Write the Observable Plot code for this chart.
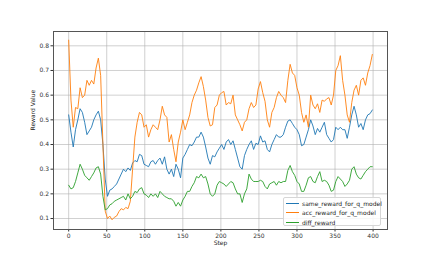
<!DOCTYPE html>
<html>
<head>
<meta charset="utf-8">
<script src="https://cdn.jsdelivr.net/npm/d3@7"></script>
<script src="https://cdn.jsdelivr.net/npm/@observablehq/plot@0.6"></script>
<style>
  html, body { margin: 0; padding: 0; background: #fff; }
  #wrap { position: relative; width: 430px; height: 258px; font-family: "DejaVu Sans", sans-serif; }
  #legend { position: absolute; left: 283px; top: 197px; width: 98px; height: 29px; box-sizing: border-box;
    border: 1px solid #d6d6d6; border-radius: 2px; background: rgba(255,255,255,0.85); font-size: 6px; color: #222; }
  .row { position: absolute; left: 0; height: 9px; line-height: 9px; white-space: nowrap; }
  .sw { position: absolute; left: 2px; top: 4px; width: 13px; height: 1.2px; }
  .lb { position: absolute; left: 18px; top: 0; }
</style>
</head>
<body>
<div id="wrap"><div id="chart"></div>
  <div id="legend"></div>
</div>
<script>
const steps = [0,3,6,9,12,15,18,21,24,27,30,33,36,39,42,45,48,51,54,57,60,63,66,69,72,75,78,81,84,87,90,93,96,99,102,105,108,111,114,117,120,123,126,129,132,135,138,141,144,147,150,153,156,159,162,165,168,171,174,177,180,183,186,189,192,195,198,201,204,207,210,213,216,219,222,225,228,231,234,237,240,243,246,249,252,255,258,261,264,267,270,273,276,279,282,285,288,291,294,297,300,303,306,309,312,315,318,321,324,327,330,333,336,339,342,345,348,351,354,357,360,363,366,369,372,375,378,381,384,387,390,393,396,399];

const sameReward = [0.52,0.45,0.39,0.46,0.5,0.545,0.53,0.49,0.44,0.455,0.47,0.5,0.52,0.535,0.5,0.4,0.26,0.19,0.215,0.22,0.23,0.24,0.26,0.28,0.3,0.29,0.305,0.295,0.325,0.335,0.33,0.36,0.355,0.32,0.315,0.31,0.33,0.335,0.32,0.335,0.345,0.32,0.35,0.3,0.28,0.3,0.27,0.32,0.3,0.265,0.345,0.36,0.38,0.4,0.395,0.41,0.43,0.43,0.45,0.43,0.39,0.345,0.32,0.355,0.35,0.37,0.385,0.4,0.38,0.41,0.42,0.4,0.415,0.38,0.345,0.31,0.3,0.355,0.38,0.4,0.415,0.38,0.405,0.4,0.435,0.41,0.415,0.38,0.37,0.4,0.42,0.44,0.43,0.43,0.44,0.47,0.495,0.5,0.485,0.47,0.46,0.44,0.395,0.4,0.43,0.46,0.5,0.475,0.44,0.465,0.45,0.47,0.49,0.44,0.425,0.41,0.42,0.47,0.46,0.47,0.46,0.46,0.425,0.47,0.52,0.555,0.52,0.47,0.485,0.46,0.5,0.52,0.525,0.54];

const accReward = [0.823,0.58,0.47,0.55,0.545,0.63,0.59,0.6,0.66,0.64,0.66,0.645,0.71,0.75,0.68,0.4,0.13,0.1,0.11,0.095,0.105,0.11,0.128,0.14,0.135,0.145,0.14,0.17,0.3,0.43,0.49,0.53,0.52,0.47,0.48,0.43,0.46,0.48,0.47,0.46,0.5,0.555,0.52,0.51,0.41,0.44,0.38,0.33,0.41,0.45,0.5,0.46,0.49,0.52,0.57,0.6,0.62,0.65,0.675,0.635,0.58,0.51,0.475,0.48,0.55,0.56,0.6,0.61,0.615,0.56,0.57,0.565,0.6,0.52,0.5,0.48,0.455,0.49,0.5,0.545,0.57,0.55,0.56,0.625,0.655,0.61,0.575,0.5,0.47,0.53,0.55,0.59,0.615,0.6,0.59,0.57,0.66,0.725,0.69,0.68,0.63,0.6,0.53,0.49,0.52,0.47,0.6,0.56,0.545,0.565,0.53,0.58,0.575,0.585,0.59,0.56,0.6,0.7,0.72,0.76,0.66,0.6,0.52,0.49,0.57,0.62,0.64,0.6,0.66,0.67,0.64,0.69,0.72,0.765];

const diffReward = [0.235,0.22,0.225,0.25,0.285,0.32,0.3,0.275,0.265,0.255,0.27,0.285,0.305,0.31,0.28,0.19,0.135,0.14,0.155,0.16,0.17,0.175,0.18,0.185,0.19,0.175,0.2,0.18,0.19,0.21,0.205,0.22,0.225,0.2,0.195,0.185,0.2,0.19,0.2,0.185,0.21,0.2,0.19,0.185,0.18,0.18,0.17,0.15,0.165,0.15,0.175,0.19,0.21,0.21,0.23,0.245,0.27,0.265,0.28,0.265,0.27,0.24,0.2,0.19,0.2,0.235,0.25,0.245,0.24,0.23,0.24,0.25,0.245,0.22,0.2,0.2,0.165,0.2,0.22,0.28,0.26,0.25,0.25,0.25,0.255,0.25,0.23,0.22,0.24,0.245,0.25,0.235,0.25,0.245,0.25,0.25,0.295,0.315,0.29,0.275,0.25,0.24,0.21,0.21,0.235,0.265,0.27,0.25,0.245,0.27,0.29,0.25,0.255,0.25,0.235,0.21,0.215,0.25,0.27,0.26,0.25,0.23,0.24,0.255,0.3,0.31,0.28,0.265,0.26,0.275,0.29,0.3,0.31,0.31];

const seriesNames = ["same_reward_for_q_model", "acc_reward_for_q_model", "diff_reward"];
const seriesColors = ["#1f77b4", "#ff7f0e", "#2ca02c"];
const xTicks = [0, 50, 100, 150, 200, 250, 300, 350, 400];
const yTicks = [0.1, 0.2, 0.3, 0.4, 0.5, 0.6, 0.7, 0.8];
const xLabel = "Step";
const yLabel = "Reward Value";

const seriesValues = [sameReward, accReward, diffReward];
const table = (vals) => steps.map((s, i) => ({step: s, value: vals[i]}));

const chart = Plot.plot({
  width: 430,
  height: 258,
  marginLeft: 53,
  marginRight: 43,
  marginTop: 31,
  marginBottom: 29,
  style: {fontFamily: "DejaVu Sans, sans-serif", fontSize: "6px", color: "#333", background: "#fff"},
  x: {domain: [-19.95, 418.95], label: null},
  y: {domain: [0.0555, 0.858], label: null},
  marks: [
    Plot.gridX(xTicks, {stroke: "#b0b0b0", strokeOpacity: 0.6, strokeWidth: 1}),
    Plot.gridY(yTicks, {stroke: "#b0b0b0", strokeOpacity: 0.6, strokeWidth: 1}),
    ...seriesValues.map((vals, k) =>
      Plot.line(table(vals), {x: "step", y: "value", stroke: seriesColors[k], strokeWidth: 1, strokeOpacity: 0.9})),
    Plot.axisX(xTicks, {tickSize: 2.5, tickPadding: 2, stroke: "#333", fill: "#333", tickFormat: d => String(d)}),
    Plot.axisY(yTicks, {tickSize: 2.5, tickPadding: 2, stroke: "#333", fill: "#333", tickFormat: d3.format(".1f")}),
    Plot.frame({stroke: "#555", strokeWidth: 1}),
    Plot.text([xLabel], {frameAnchor: "bottom", dy: 15, fill: "#222", fontSize: 6}),
    Plot.text([yLabel], {frameAnchor: "left", dx: -20, rotate: -90, fill: "#222", fontSize: 6})
  ]
});
document.getElementById("chart").appendChild(chart);

const legend = document.getElementById("legend");
seriesNames.forEach((name, i) => {
  const row = document.createElement("div");
  row.className = "row";
  row.style.top = (1 + i * 9.3) + "px";
  row.style.width = "100%";
  row.innerHTML = `<span class="sw" style="background:${seriesColors[i]}"></span><span class="lb">${name}</span>`;
  legend.appendChild(row);
});
</script>
</body>
</html>
